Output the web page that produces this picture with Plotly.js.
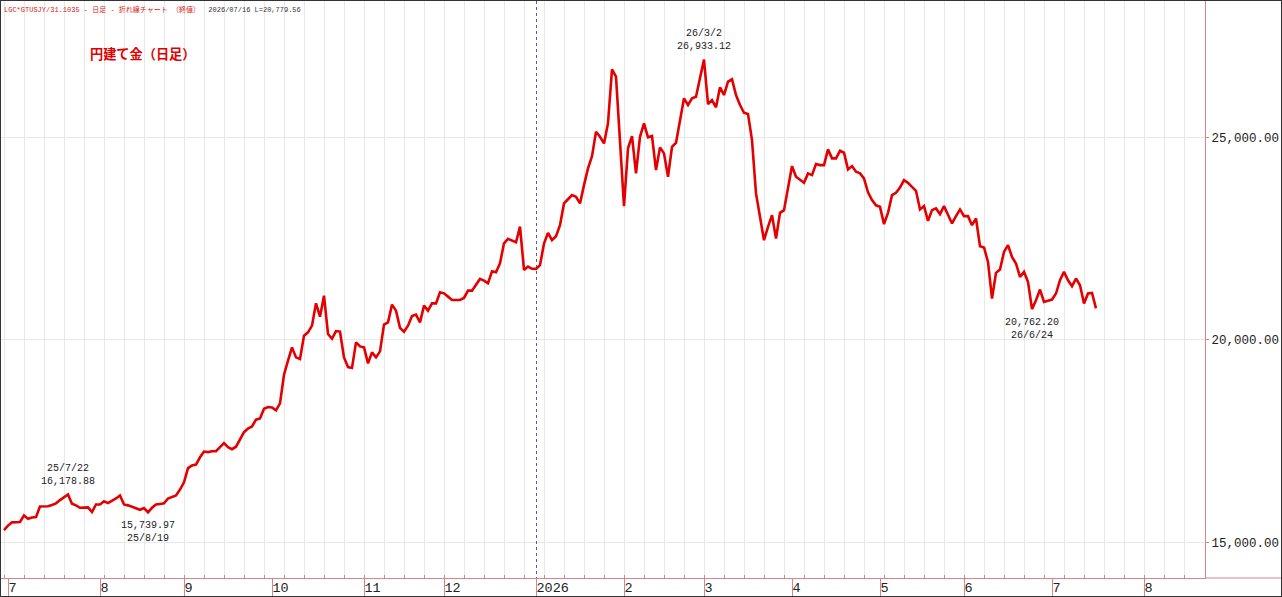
<!DOCTYPE html>
<html><head><meta charset="utf-8">
<script src="https://cdn.plot.ly/plotly-3.0.1.min.js"></script>
<style>html,body{margin:0;padding:0;background:#fff}#chart{width:1280px;height:595px;border:1px solid #333;}</style>
</head><body><div id="chart"></div><script>
// Daily closes (weekdays) from 2025-06-30 to 2026-07-16
const values = [
15300,15410,15490,15495,15500,15661,15580,15610,15620,15884,
15884,15890,15920,15960,16040,16110,16178.88,15950,15910,15850,
15855,15860,15745,15933,15933,16010,15966,16020,16080,16156,
15933,15910,15880,15840,15802,15842,15739.97,15850,15930,15945,
15960,16080,16114,16156,16300,16480,16830,16898,16920,17100,
17240,17228,17250,17252,17350,17450,17351,17300,17360,17550,
17720,17810,17860,18029,18060,18300,18341,18330,18260,18431,
19141,19488,19817,19570,19530,20106,20188,20354,20906,20577,
21096,20148,20030,20220,20205,19569,19330,19307,19941,19840,
19817,19421,19694,19569,19718,20379,20436,20874,20725,20300,
20205,20354,20590,20626,20436,20849,20725,20906,20906,21178,
21153,21072,20990,20990,20990,21040,21220,21220,21380,21510,
21468,21401,21698,21673,21896,22391,22500,22458,22416,22804,
21733,21814,21760,21757,21849,22386,22649,22468,22567,22839,
23376,23480,23582,23540,23376,23829,24243,24547,25149,25025,
24861,25356,26693,26510,24943,23310,24738,25042,24119,25025,
25356,25010,25042,24200,24762,24614,24035,24777,24876,25438,
25975,25809,25975,26015,26470,26933.12,25834,25933,25752,26247,
26057,26386,26445,26057,25809,25619,25587,24943,23624,23045,
22468,22797,23087,22510,23144,23211,23787,24300,24035,23953,
23886,24119,24077,24349,24324,24324,24713,24490,24490,24678,
24629,24218,24300,24159,24119,23995,23650,23458,23330,23292,
22864,23144,23582,23639,23772,23953,23886,23787,23688,23228,
23310,22946,23211,23253,23112,23310,23087,22881,23062,23228,
23062,23062,22839,23005,22320,22287,21931,21025,21659,21743,
22178,22344,22055,21891,21560,21684,21436,20762.20,20982,21247,
20941,20970,21000,21148,21477,21684,21477,21329,21519,21354,
20900,21148,21162,20779.56
];
const firstDate = '2025-06-30';
const monthTicks = ['2025-07-01','2025-08-01','2025-09-01','2025-10-01','2025-11-03','2025-12-01','2026-01-01','2026-02-02','2026-03-02','2026-04-01','2026-05-01','2026-06-01','2026-07-01','2026-08-03'];
const monthLabels = ['7','8','9','10','11','12','2026','2','3','4','5','6','7','8'];
const yearStart = ['2026-01-01'];
const markDates = ['2025-07-22','2025-08-19','2026-03-02','2026-06-24'];
const markSides = ['above','below','above','below'];
const headerText = 'LGC*GTUSJY/31.1035 - 日足 - 折れ線チャート （終値）';
const titleText = '円建て金（日足）';

function weekdays(start, n){
  const out=[]; const d=new Date(start+'T00:00:00Z');
  while(out.length<n){const w=d.getUTCDay(); if(w!==0&&w!==6) out.push(d.toISOString().slice(0,10)); d.setUTCDate(d.getUTCDate()+1);}
  return out;
}
const dates = weekdays(firstDate, values.length);
const fmt = v => v.toLocaleString('en-US',{minimumFractionDigits:2,maximumFractionDigits:2});
const shortDate = s => { const p=s.split('-'); return (+p[0]%100)+'/'+(+p[1])+'/'+(+p[2]); };

const pink = '#d4868c';
const grid = '#e8e8e8';
const R = ['2025-06-27 06:00','2026-08-24 06:00'];
const RB = [{bounds:['sat','mon']}];
const mono = 'Liberation Mono, DejaVu Sans Mono, monospace';

const traces = [
  {x:dates, y:values, xaxis:'x', yaxis:'y', mode:'lines', line:{width:0}, hoverinfo:'skip', opacity:0},
  {x:dates, y:values, xaxis:'x2', yaxis:'y', mode:'lines', line:{width:0}, hoverinfo:'skip', opacity:0},
  {x:dates, y:values, xaxis:'x3', yaxis:'y', mode:'lines', line:{color:'#e40000', width:2.6}, hoverinfo:'x+y'}
];

const annotations = [];
markDates.forEach((md,i)=>{
  const idx = dates.indexOf(md); const v = values[idx];
  const above = markSides[i]==='above';
  annotations.push({xref:'x3', yref:'y', x:md, y:v, showarrow:false,
    text: above ? shortDate(md)+'<br>'+fmt(v) : fmt(v)+'<br>'+shortDate(md),
    yanchor: above?'bottom':'top', yshift: above?6:-6,
    font:{family:mono, size:10, color:'#222'}});
});
const last = dates[dates.length-1];
annotations.push({xref:'paper', yref:'paper', x:0, y:1, xanchor:'left', yanchor:'top', xshift:1, yshift:-2, showarrow:false,
  text:'<span style="color:#d42020">'+headerText+'</span>  '+last.replace(/-/g,'/')+' L='+fmt(values[values.length-1]),
  font:{family:'Liberation Mono, Noto Sans CJK JP', size:7, color:'#333'}});
annotations.push({xref:'paper', yref:'paper', x:87/1204, y:1-52/576.5, xanchor:'left', yanchor:'middle', showarrow:false,
  text:'<b>'+titleText+'</b>', font:{family:'Noto Sans CJK JP', size:13.2, color:'#e00000'}});

const layout = {
  width:1280, height:595, margin:{l:0,r:76,t:0,b:18}, paper_bgcolor:'#fff', plot_bgcolor:'#fff', showlegend:false,
  xaxis:{type:'date', range:R, rangebreaks:RB, tick0:'2025-06-30', dtick:604800000, showgrid:true, gridcolor:grid, gridwidth:1,
    ticks:'inside', ticklen:3, tickcolor:pink, showticklabels:false, showline:true, linecolor:pink, linewidth:1, zeroline:false, fixedrange:true},
  xaxis2:{type:'date', overlaying:'x', anchor:'y', range:R, rangebreaks:RB, tickmode:'array', tickvals:yearStart, showgrid:true,
    gridcolor:'#5858a8', griddash:'dot', gridwidth:1, showticklabels:false, ticks:'', showline:false, zeroline:false, fixedrange:true},
  xaxis3:{type:'date', overlaying:'x', anchor:'y', range:R, rangebreaks:RB, tickmode:'array', tickvals:monthTicks, ticktext:monthLabels,
    showgrid:false, ticks:'outside', ticklen:19, tickcolor:pink, tickwidth:1, ticklabelposition:'outside right', ticklabelstandoff:-3,
    tickfont:{family:mono, size:13.5, color:'#222'}, showline:false, zeroline:false, fixedrange:true},
  yaxis:{side:'right', range:[14114,28382], tick0:0, dtick:5000, tickformat:',.2f', showgrid:true, gridcolor:grid, gridwidth:1,
    ticks:'outside', ticklen:3, tickcolor:pink, showline:true, linecolor:pink, linewidth:1, zeroline:false, fixedrange:true,
    tickfont:{family:mono, size:12.5, color:'#222'}},
  shapes:[{type:'line', xref:'paper', yref:'paper', x0:1, x1:1.07, y0:0, y1:0, line:{color:pink, width:1}}],
  annotations: annotations
};
Plotly.newPlot('chart', traces, layout, {displayModeBar:false, staticPlot:true});
</script></body></html>
